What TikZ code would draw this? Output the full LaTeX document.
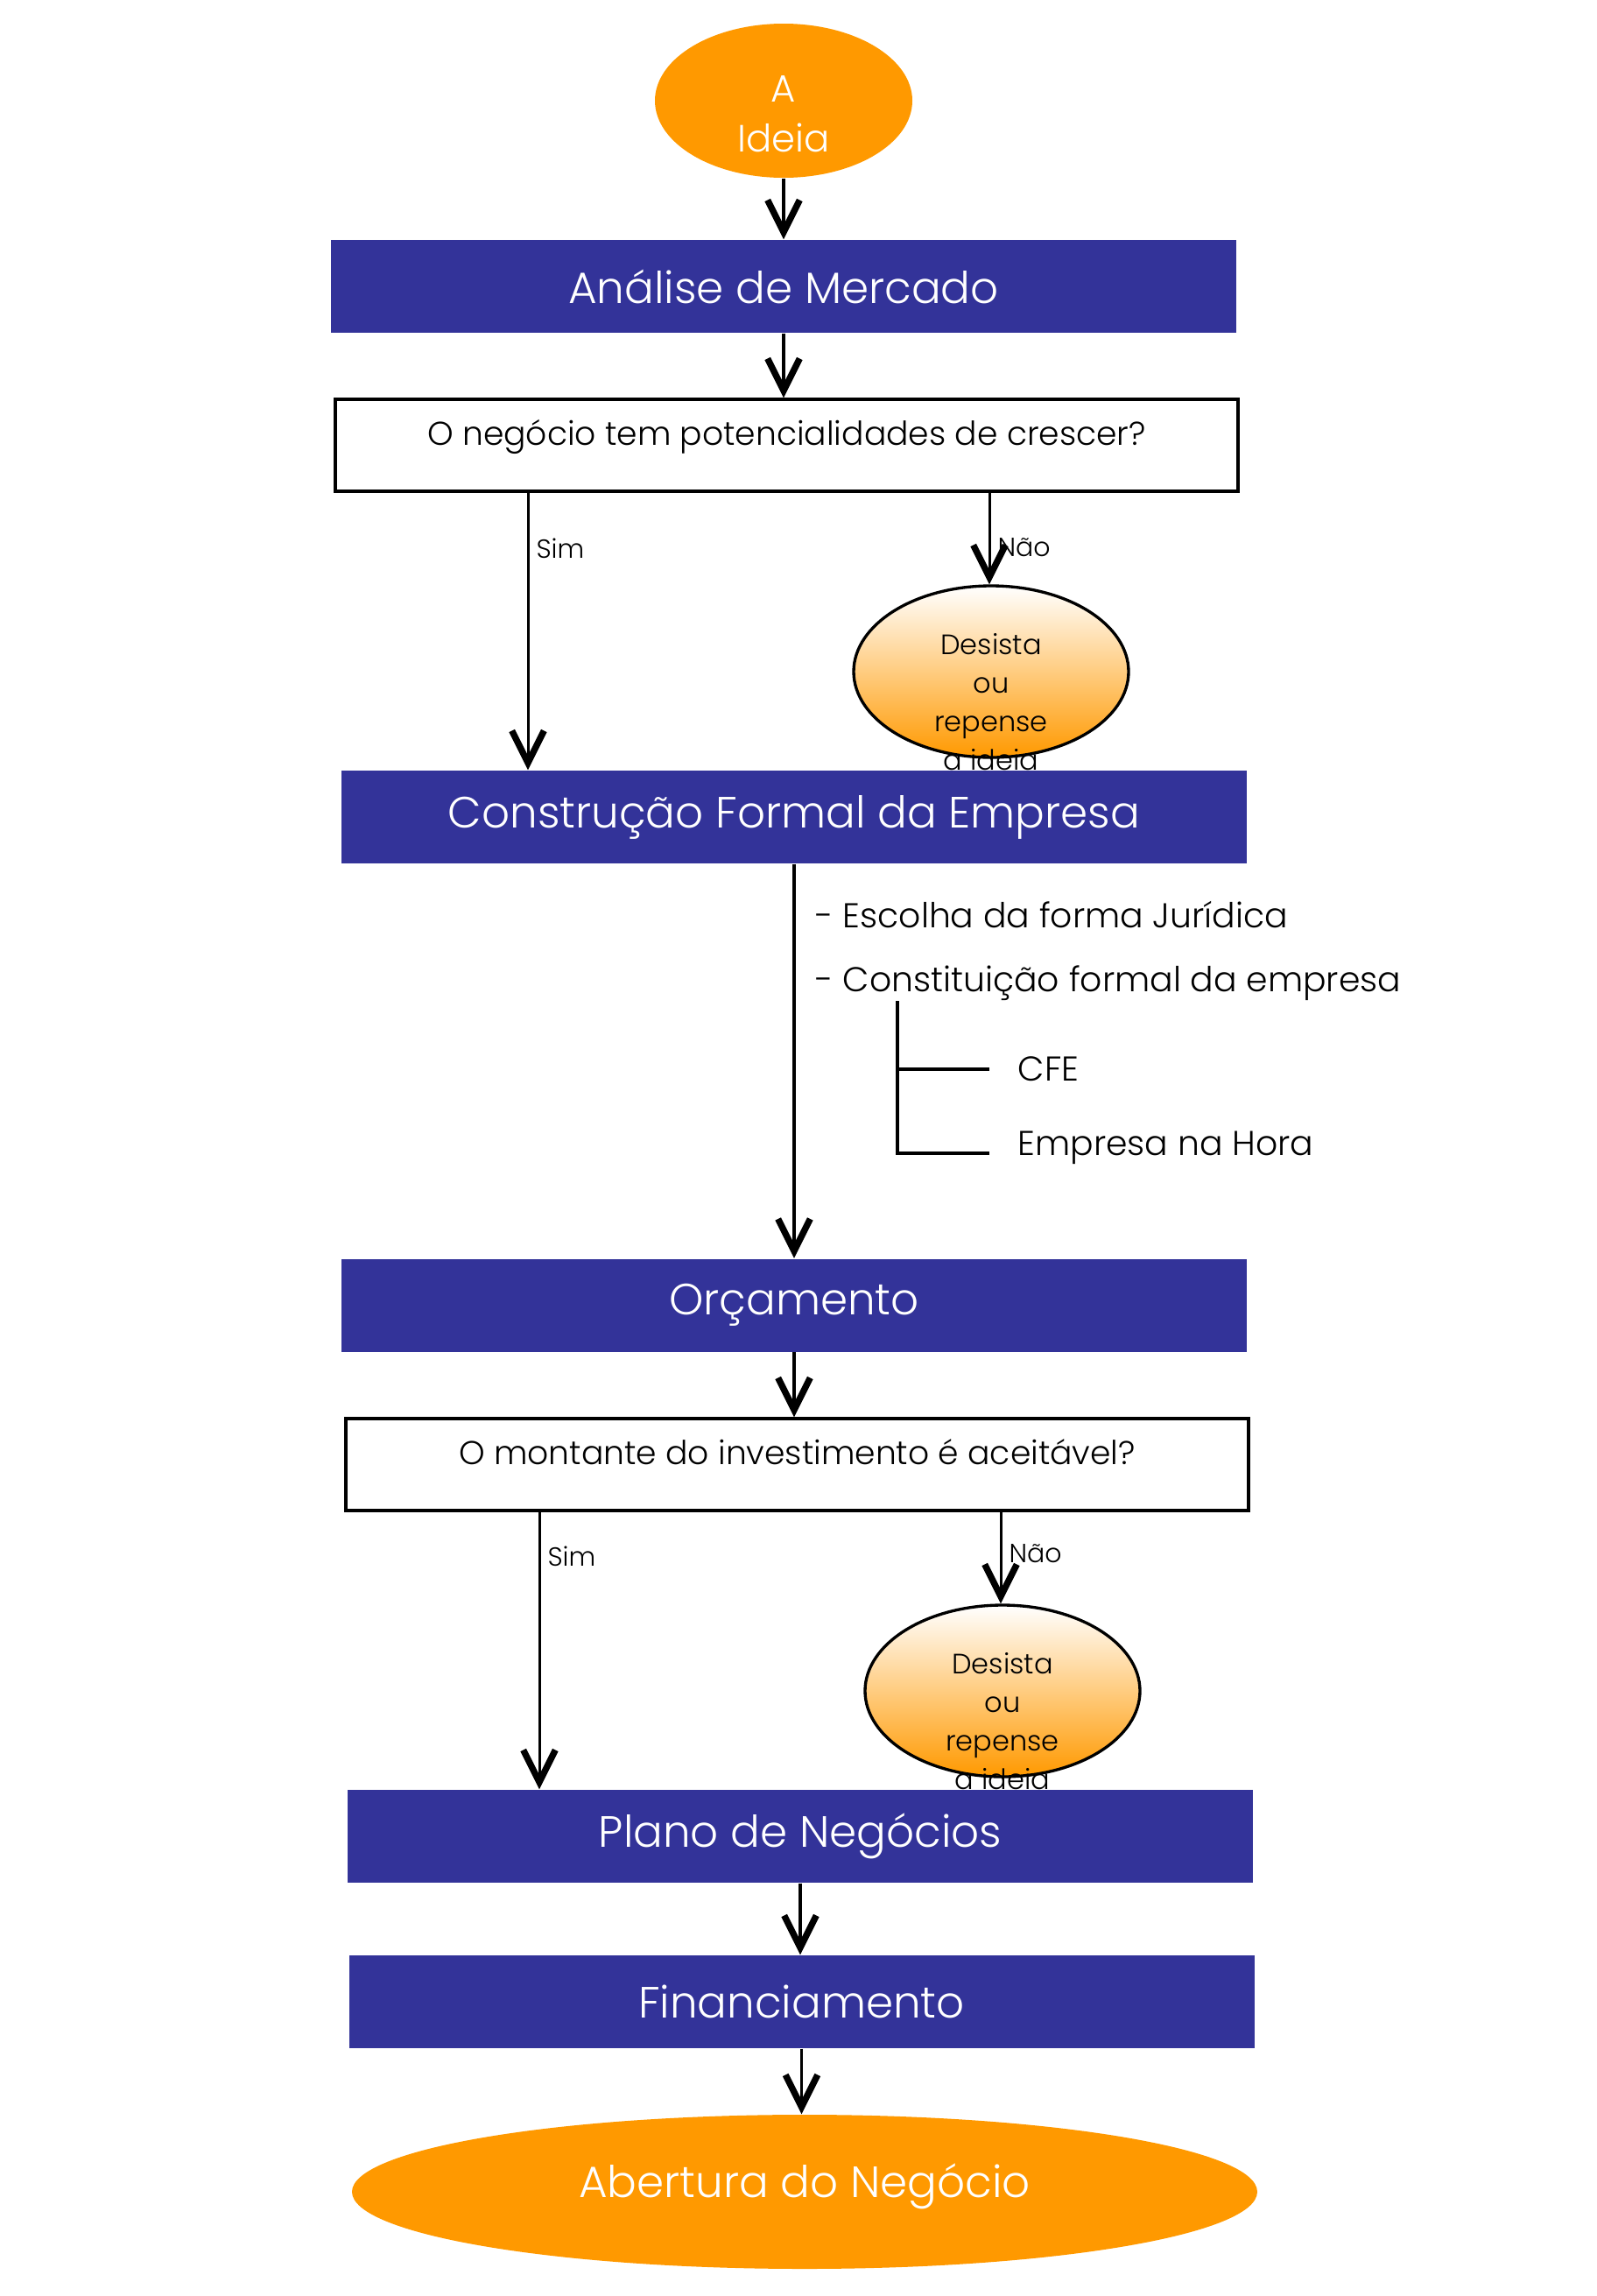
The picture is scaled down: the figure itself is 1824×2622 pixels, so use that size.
\documentclass[tikz,border=0pt]{standalone}
\usepackage{fontspec}
\setmainfont{Poppins Light}
\usetikzlibrary{arrows.meta,shapes.geometric,calc}
\definecolor{azulcaixa}{HTML}{333399}
\definecolor{laranja}{HTML}{FF9900}
\tikzset{
  etapa/.style={rectangle, fill=azulcaixa, text=white, minimum width=310.2pt, minimum height=31.8pt, inner sep=0pt, font=\fontsize{15}{18}\selectfont},
  pergunta/.style={rectangle, draw, line width=1pt, minimum width=309.3pt, minimum height=31.5pt, inner sep=0pt, text height=8.5pt, text depth=8.5pt, font=\fontsize{11.3}{13}\selectfont},
  desista/.style={ellipse, draw, line width=1pt, top color=white, bottom color=laranja, minimum width=94.2pt, minimum height=58.8pt, inner sep=0pt},
  desistatexto/.style={align=center, inner sep=0pt, font=\fontsize{9.6}{13.2}\selectfont},
  oval/.style={ellipse, fill=laranja, text=white, inner sep=0pt, align=center},
  seta/.style={-{Straight Barb[length=11pt,width=11pt,line width=2.2pt]}, line width=1.1pt},
  ramo/.style={-{Straight Barb[length=11pt,width=11pt,line width=2.2pt]}, line width=0.9pt},
  rotulo/.style={font=\fontsize{9}{11}\selectfont, inner sep=2.4pt},
  topico/.style={anchor=west, inner sep=0pt, font=\fontsize{11.8}{14}\selectfont},
}
\begin{document}
\begin{tikzpicture}[x=0.3pt, y=-0.3pt]
  \useasboundingbox (0,0) rectangle (1824,2622);
  % inicio
  \node[oval, minimum width=88.2pt, minimum height=52.8pt, font=\fontsize{13}{17}\selectfont] (ideia) at (895,115) {\rule{0pt}{18pt}A\\Ideia};
  \node[etapa] (mercado) at (895,327) {Análise de Mercado};
  \node[pergunta] (pergunta1) at (898.5,508.5) {O negócio tem potencialidades de crescer?};
  \node[desista] (desista1) at (1132,767) {};
  \node[desistatexto] (texto1) at (1132,802) {Desista\\ou\\repense\\a ideia};
  \node[etapa] (construcao) at (907,933) {Construção Formal da Empresa};
  % passos da constituicao
  \node[topico] (escolha) at (931,1045) {- Escolha da forma Jurídica};
  \node[topico] (constituicao) at (931,1123) {- Constituição formal da empresa};
  \node[topico] (cfe) at (1162,1221) {CFE};
  \node[topico] (hora) at (1162,1311) {Empresa na Hora};
  \coordinate (chave) at (1025,1143);
  \coordinate (fimcfe) at (1130,1221);
  \coordinate (fimhora) at (1130,1317);
  \draw[line width=1pt] (chave) |- (fimhora);
  \draw[line width=1pt] (chave |- fimcfe) -- (fimcfe);
  % segunda parte
  \node[etapa] (orcamento) at (907,1490.5) {Orçamento};
  \node[pergunta] (pergunta2) at (910.5,1672.5) {O montante do investimento é aceitável?};
  \node[desista] (desista2) at (1145,1931) {};
  \node[desistatexto] (texto2) at (1145,1966) {Desista\\ou\\repense\\a ideia};
  \node[etapa] (plano) at (914,2097) {Plano de Negócios};
  \node[etapa] (financiamento) at (915.5,2286) {Financiamento};
  \node[oval, minimum width=310.2pt, minimum height=52.8pt, font=\fontsize{15}{18}\selectfont, text depth=8pt] (abertura) at (919,2503) {Abertura do Negócio};
  % setas
  \coordinate (sim1) at (603,0);
  \coordinate (nao1) at (1130,0);
  \coordinate (sim2) at (616,0);
  \coordinate (nao2) at (1143,0);
  \draw[seta] (ideia) -- (ideia.south |- mercado.north);
  \draw[seta] (mercado.south) -- (mercado.south |- pergunta1.north);
  \draw[ramo] (sim1 |- pergunta1.south) -- (sim1 |- construcao.north) node[rotulo, pos=0.2, right] {Sim};
  \draw[ramo] (nao1 |- pergunta1.south) -- (nao1 |- desista1.north) node[rotulo, pos=0.6, right] {Não};
  \draw[seta] (construcao.south) -- (construcao.south |- orcamento.north);
  \draw[seta] (orcamento.south) -- (orcamento.south |- pergunta2.north);
  \draw[ramo] (sim2 |- pergunta2.south) -- (sim2 |- plano.north) node[rotulo, pos=0.16, right] {Sim};
  \draw[ramo] (nao2 |- pergunta2.south) -- (nao2 |- desista2.north) node[rotulo, pos=0.45, right] {Não};
  \draw[seta] (plano.south) -- (plano.south |- financiamento.north);
  \draw[seta] (financiamento.south) -- (financiamento.south |- abertura.north);
\end{tikzpicture}
\end{document}
